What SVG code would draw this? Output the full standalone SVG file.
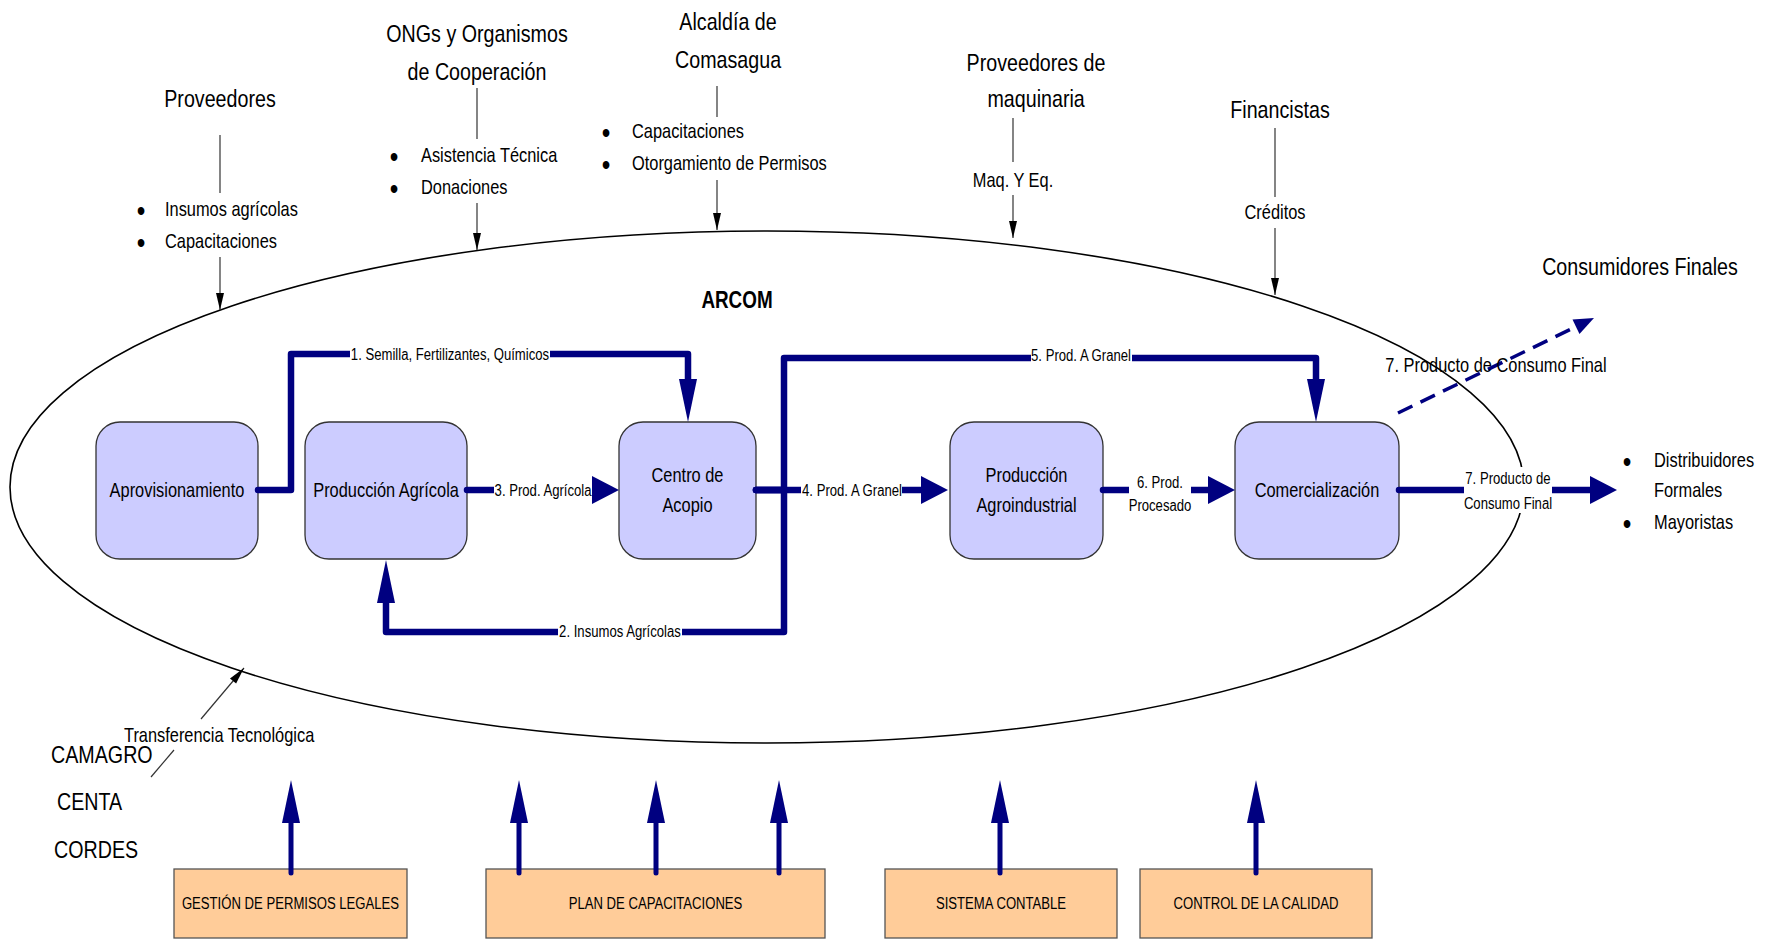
<svg xmlns="http://www.w3.org/2000/svg" width="1774" height="939" viewBox="0 0 1774 939">
<style>
  /* condensed sans: regular Liberation Sans squeezed horizontally about each text's anchor */
  text { font-family: "Liberation Sans", Arial, sans-serif; fill: #000;
         transform-box: fill-box; transform-origin: 0% 50%; transform: scaleX(0.82); }
  .big { font-size: 24px; }
  .mid { font-size: 20px; }
  .sm { font-size: 16px; }
  .c { text-anchor: middle; transform-origin: 50% 50%; }
  .bul { font-size: 30px; text-anchor: middle; transform-origin: 50% 50%; }
  .bold { font-weight: bold; }
  .proc rect { fill: #ccccff; stroke: #333; stroke-width: 1.3; }
  .task rect { fill: #ffcc99; stroke: #555; stroke-width: 1.3; }
  .flow { fill: none; stroke: #000080; stroke-width: 6.5; stroke-linecap: round; stroke-linejoin: round; }
  .up { fill: none; stroke: #000080; stroke-width: 5; stroke-linecap: round; }
  .dash { fill: none; stroke: #000080; stroke-width: 3.5; stroke-dasharray: 16 9; }
  .thin { fill: none; stroke: #333; stroke-width: 1.2; }
  .bg { fill: #fff; }
</style>
<defs>
  <marker id="headLong" markerUnits="userSpaceOnUse" markerWidth="44" markerHeight="18" refX="0" refY="9" orient="auto" overflow="visible">
    <path d="M0,0 L43,9 L0,18 z" fill="#000080"/>
  </marker>
  <marker id="headShort" markerUnits="userSpaceOnUse" markerWidth="28" markerHeight="28" refX="0" refY="14" orient="auto" overflow="visible">
    <path d="M0,0 L27,14 L0,28 z" fill="#000080"/>
  </marker>
  <marker id="headDash" markerUnits="userSpaceOnUse" markerWidth="20" markerHeight="16" refX="0" refY="8" orient="auto" overflow="visible">
    <path d="M0,0 L20,8 L0,16 z" fill="#000080"/>
  </marker>
  <marker id="headThin" markerUnits="userSpaceOnUse" markerWidth="17" markerHeight="8" refX="17" refY="4" orient="auto" overflow="visible">
    <path d="M0,0 L17,4 L0,8 z" fill="#000"/>
  </marker>
</defs>

<!-- organisation boundary -->
<g id="n-arcom">
  <ellipse cx="767" cy="487" rx="757" ry="256" fill="none" stroke="#000" stroke-width="1.6"/>
  <text class="c bold" x="737" y="308" style="font-size:23px">ARCOM</text>
</g>

<!-- external actors -->
<g id="n-proveedores">
  <text class="big c" x="220" y="107.5">Proveedores</text>
  <text class="bul" x="141" y="221">•</text>
  <text class="mid" x="165" y="216">Insumos agrícolas</text>
  <text class="bul" x="141" y="253">•</text>
  <text class="mid" x="165" y="248">Capacitaciones</text>
</g>
<g id="n-ongs">
  <text class="big c" x="477" y="42">ONGs y Organismos</text>
  <text class="big c" x="477" y="80">de Cooperación</text>
  <text class="bul" x="394" y="167">•</text>
  <text class="mid" x="421" y="162">Asistencia Técnica</text>
  <text class="bul" x="394" y="199">•</text>
  <text class="mid" x="421" y="194">Donaciones</text>
</g>
<g id="n-alcaldia">
  <text class="big c" x="728" y="30.5">Alcaldía de</text>
  <text class="big c" x="728" y="68.5">Comasagua</text>
  <text class="bul" x="606" y="143">•</text>
  <text class="mid" x="632" y="138">Capacitaciones</text>
  <text class="bul" x="606" y="175">•</text>
  <text class="mid" x="632" y="170">Otorgamiento de Permisos</text>
</g>
<g id="n-maquinaria">
  <text class="big c" x="1036" y="71">Proveedores de</text>
  <text class="big c" x="1036" y="107.5">maquinaria</text>
  <text class="mid c" x="1013" y="187">Maq. Y Eq.</text>
</g>
<g id="n-financistas">
  <text class="big c" x="1280" y="118.5">Financistas</text>
  <text class="mid c" x="1275" y="219">Créditos</text>
</g>
<g id="n-consumidores">
  <text class="big c" x="1640" y="275.5">Consumidores Finales</text>
</g>
<g id="n-distribuidores">
  <text class="bul" x="1627" y="472">•</text>
  <text class="mid" x="1654" y="467">Distribuidores</text>
  <text class="mid" x="1654" y="497">Formales</text>
  <text class="bul" x="1627" y="534">•</text>
  <text class="mid" x="1654" y="529">Mayoristas</text>
</g>
<g id="n-instituciones">
  <text class="big" x="51" y="763.5">CAMAGRO</text>
  <text class="big" x="57" y="810.5">CENTA</text>
  <text class="big" x="54" y="858.5">CORDES</text>
</g>

<!-- value chain stages -->
<g id="n-aprovisionamiento" class="proc">
  <rect x="96" y="422" width="162" height="137" rx="24"/>
  <text class="mid c" x="177" y="497">Aprovisionamiento</text>
</g>
<g id="n-produccion-agricola" class="proc">
  <rect x="305" y="422" width="162" height="137" rx="24"/>
  <text class="mid c" x="386" y="497">Producción Agrícola</text>
</g>
<g id="n-centro-acopio" class="proc">
  <rect x="619" y="422" width="137" height="137" rx="24"/>
  <text class="mid c" x="687.5" y="482">Centro de</text>
  <text class="mid c" x="687.5" y="512">Acopio</text>
</g>
<g id="n-agroindustrial" class="proc">
  <rect x="950" y="422" width="153" height="137" rx="24"/>
  <text class="mid c" x="1026.5" y="482">Producción</text>
  <text class="mid c" x="1026.5" y="512">Agroindustrial</text>
</g>
<g id="n-comercializacion" class="proc">
  <rect x="1235" y="422" width="164" height="137" rx="24"/>
  <text class="mid c" x="1317" y="497">Comercialización</text>
</g>

<!-- support activities -->
<g id="n-permisos" class="task">
  <rect x="174" y="869" width="233" height="69"/>
  <text class="sm c" x="290.5" y="909.5">GESTIÓN DE PERMISOS LEGALES</text>
</g>
<g id="n-capacitaciones" class="task">
  <rect x="486" y="869" width="339" height="69"/>
  <text class="sm c" x="655.5" y="909.5">PLAN DE CAPACITACIONES</text>
</g>
<g id="n-contable" class="task">
  <rect x="885" y="869" width="232" height="69"/>
  <text class="sm c" x="1001" y="909.5">SISTEMA CONTABLE</text>
</g>
<g id="n-calidad" class="task">
  <rect x="1140" y="869" width="232" height="69"/>
  <text class="sm c" x="1256" y="909.5">CONTROL DE LA CALIDAD</text>
</g>

<g id="connectors">
  <!-- inputs from external actors -->
  <path class="thin" d="M220,135 V193"/>
  <path class="thin" d="M220,257 V310" marker-end="url(#headThin)"/>
  <path class="thin" d="M477,88 V139"/>
  <path class="thin" d="M477,203 V250" marker-end="url(#headThin)"/>
  <path class="thin" d="M717,86 V117"/>
  <path class="thin" d="M717,180 V230" marker-end="url(#headThin)"/>
  <path class="thin" d="M1013,118 V162"/>
  <path class="thin" d="M1013,195 V238" marker-end="url(#headThin)"/>
  <path class="thin" d="M1275,128 V197"/>
  <path class="thin" d="M1275,228 V295" marker-end="url(#headThin)"/>
  <path class="thin" d="M151,777 L174,750"/>
  <path class="thin" d="M201,719 L244,668" marker-end="url(#headThin)"/>
  <text class="mid" x="124" y="742">Transferencia Tecnológica</text>

  <!-- product flows -->
  <path class="flow" d="M258,490 H291 V354 H688 V379" marker-end="url(#headLong)"/>
  <path class="flow" d="M756,490 H784 V632 H386 V603" marker-end="url(#headLong)"/>
  <path class="flow" d="M756,490 H784 V358 H1316 V379" marker-end="url(#headLong)"/>
  <path class="flow" d="M467,490 H592" marker-end="url(#headShort)"/>
  <path class="flow" d="M756,490 H921" marker-end="url(#headShort)"/>
  <path class="flow" d="M1103,490 H1208" marker-end="url(#headShort)"/>
  <path class="flow" d="M1399,490 H1590" marker-end="url(#headShort)"/>
  <path class="dash" d="M1398,413 L1576,326.7" marker-end="url(#headDash)"/>

  <!-- flow labels -->
  <rect class="bg" x="350" y="345" width="200" height="19"/>
  <text class="sm c" x="450" y="360">1. Semilla, Fertilizantes, Químicos</text>
  <rect class="bg" x="1031" y="346" width="101" height="19"/>
  <text class="sm c" x="1081" y="361">5. Prod. A Granel</text>
  <rect class="bg" x="558" y="622" width="124" height="19"/>
  <text class="sm c" x="620" y="637">2. Insumos Agrícolas</text>
  <rect class="bg" x="494" y="481" width="98" height="19"/>
  <text class="sm c" x="543" y="496">3. Prod. Agrícola</text>
  <rect class="bg" x="801" y="481" width="101" height="19"/>
  <text class="sm c" x="852" y="496">4. Prod. A Granel</text>
  <rect class="bg" x="1129" y="472" width="62" height="44"/>
  <text class="sm c" x="1160" y="488">6. Prod.</text>
  <text class="sm c" x="1160" y="511">Procesado</text>
  <rect class="bg" x="1464" y="467" width="88" height="46"/>
  <text class="sm c" x="1508" y="484">7. Producto de</text>
  <text class="sm c" x="1508" y="509">Consumo Final</text>
  <text class="mid c" x="1496" y="372">7. Producto de Consumo Final</text>

  <!-- support activities feeding the chain -->
  <path class="up" d="M291,873 V823" marker-end="url(#headLong)"/>
  <path class="up" d="M519,873 V823" marker-end="url(#headLong)"/>
  <path class="up" d="M656,873 V823" marker-end="url(#headLong)"/>
  <path class="up" d="M779,873 V823" marker-end="url(#headLong)"/>
  <path class="up" d="M1000,873 V823" marker-end="url(#headLong)"/>
  <path class="up" d="M1256,873 V823" marker-end="url(#headLong)"/>
</g>
</svg>
